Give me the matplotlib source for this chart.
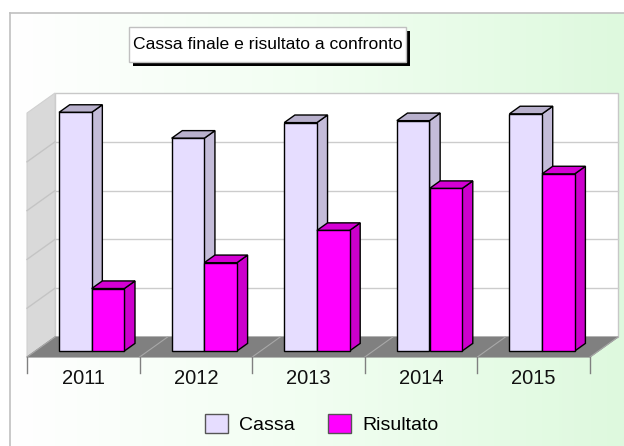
import numpy as np
import matplotlib
matplotlib.use('Agg')
import matplotlib.pyplot as plt
from matplotlib.patches import Polygon, Rectangle, Patch
from matplotlib.colors import LinearSegmentedColormap

plt.rcParams['font.family'] = ['Liberation Sans', 'DejaVu Sans']

# dati (in unità della griglia)
anni = ['2011', '2012', '2013', '2014', '2015']
cassa = [4.89, 4.36, 4.68, 4.72, 4.86]
risultato = [1.28, 1.81, 2.47, 3.33, 3.63]
serie = ['Cassa', 'Risultato']

W, H = 624, 446
fig = plt.figure(figsize=(W / 100, H / 100), dpi=100)
fig.patch.set_facecolor('white')

# sfondo sfumato bianco -> verde chiaro
bg = fig.add_axes([10 / W, 0, 1 - 10 / W, 1 - 13 / H])
grad = np.linspace(0, 1, 256)[None, :] * np.ones((50, 1))
cmap = LinearSegmentedColormap.from_list('bgv', ['#ffffff', '#f1fef1', '#def9de'])
bg.imshow(grad, aspect='auto', cmap=cmap, extent=[0, 1, 0, 1])
bg.set_xticks([])
bg.set_yticks([])
for s in ['right', 'bottom']:
    bg.spines[s].set_visible(False)
for s in ['left', 'top']:
    bg.spines[s].set_color('#c0c0c0')
    bg.spines[s].set_linewidth(1.2)

# assi principali: 1 unità x = una categoria, 1 unità y = una linea di griglia
X0, XS = 27, 112.6
Y0, YS = 357, 48.8
ax = fig.add_axes([0, 0, 1, 1])
ax.set_xlim(-X0 / XS - 0.5, (W - X0) / XS - 0.5)
ax.set_ylim((Y0 - H) / YS, Y0 / YS)
ax.axis('off')
ax.patch.set_alpha(0)

DX, DY = 28 / XS, 20 / YS   # profondità totale
YMAX = 5
n = len(anni)
xl, xr = -0.5, n - 0.5

# pareti e pavimento
ax.add_patch(Polygon([(xl + DX, DY), (xr + DX, DY), (xr + DX, DY + YMAX), (xl + DX, DY + YMAX)],
                     closed=True, facecolor='white', edgecolor='#c8c8c8', lw=1, zorder=1))
ax.add_patch(Polygon([(xl, 0), (xl + DX, DY), (xl + DX, DY + YMAX), (xl, YMAX)],
                     closed=True, facecolor='#d9d9d9', edgecolor='#d0d0d0', lw=0.8, zorder=1))
ax.add_patch(Polygon([(xl, 0), (xr, 0), (xr + DX, DY), (xl + DX, DY)],
                     closed=True, facecolor='#808080', edgecolor='#808080', lw=0.8, zorder=2))
for k in range(1, YMAX):
    ax.plot([xl + DX, xr + DX], [DY + k, DY + k], color='#cccccc', lw=1, zorder=1.5)
    ax.plot([xl, xl + DX], [k, DY + k], color='#c4c4c4', lw=1, zorder=1.5)
for k in range(n + 1):
    ax.plot([xl + k, xl + k + DX], [0, DY], color='#a8a8a8', lw=0.8, zorder=2.5)
    ax.plot([xl + k, xl + k], [0, -16 / YS], color='#808080', lw=1, zorder=2.5)

for i, a in enumerate(anni):
    ax.text(i, -22 / YS, a, ha='center', va='center', fontsize=14.5, color='#111111')

# barre 3D
z0, z1 = 0.3, 0.68
bw = 0.29
stili = [('#e6ddff', '#c4bcd9', '#b8b0cc'), ('#ff00ff', '#cc00cc', '#d400d4')]
z = 3
for i in range(n):
    for j, vals in enumerate([cassa, risultato]):
        front, side, top = stili[j]
        v = vals[i]
        left = i - bw + j * bw + z0 * DX
        base = z0 * DY
        ddx, ddy = (z1 - z0) * DX, (z1 - z0) * DY
        ax.add_patch(Polygon([(left + bw, base), (left + bw + ddx, base + ddy),
                              (left + bw + ddx, base + v + ddy), (left + bw, base + v)],
                             closed=True, facecolor=side, edgecolor='black', lw=1, zorder=z))
        ax.add_patch(Polygon([(left, base + v), (left + bw, base + v),
                              (left + bw + ddx, base + v + ddy), (left + ddx, base + v + ddy)],
                             closed=True, facecolor=top, edgecolor='black', lw=1, zorder=z))
        ax.bar(left, v, width=bw, bottom=base, align='edge', color=front,
               edgecolor='black', linewidth=1, zorder=z + 0.5)
        z += 1

# titolo con ombra
tx, ty, tw, th = 129, 27, 277, 35
fig.patches.append(Rectangle(((tx + 4) / W, 1 - (ty + th + 4) / H), tw / W, th / H,
                             transform=fig.transFigure, facecolor='black', edgecolor='none', zorder=5))
fig.patches.append(Rectangle((tx / W, 1 - (ty + th) / H), tw / W, th / H,
                             transform=fig.transFigure, facecolor='white', edgecolor='#c0c0c0',
                             lw=1, zorder=6))
fig.text((tx + tw / 2) / W, 1 - (ty + th / 2) / H, 'Cassa finale e risultato a confronto',
         ha='center', va='center', fontsize=12.6, color='black', zorder=7)

# legenda
handles = [Patch(facecolor=stili[0][0], edgecolor='#555555', label=serie[0]),
           Patch(facecolor=stili[1][0], edgecolor='#555555', label=serie[1])]
fig.legend(handles=handles, loc='center', bbox_to_anchor=(322 / W, 1 - 424 / H), ncol=2,
           frameon=False, fontsize=14, handlelength=1.15, handleheight=1.15,
           columnspacing=1.7, handletextpad=0.6)

fig.savefig('out.png', dpi=100)
